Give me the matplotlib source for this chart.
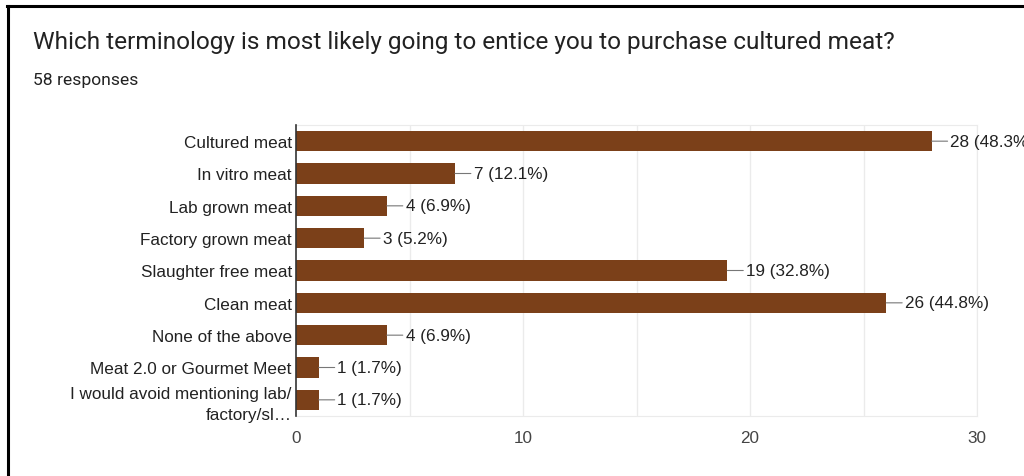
import matplotlib.pyplot as plt
from matplotlib.lines import Line2D

# survey answers, top to bottom
categories = [
    "Cultured meat",
    "In vitro meat",
    "Lab grown meat",
    "Factory grown meat",
    "Slaughter free meat",
    "Clean meat",
    "None of the above",
    "Meat 2.0 or Gourmet Meet",
    "I would avoid mentioning lab/\nfactory/sl\u2026",
]
counts = [28, 7, 4, 3, 19, 26, 4, 1, 1]
percents = [48.3, 12.1, 6.9, 5.2, 32.8, 44.8, 6.9, 1.7, 1.7]
x_ticks = [0, 10, 20, 30]

BAR = "#7b4019"
TEXT = "#222222"
GRID = "#ebebeb"
FS = 12.3


def main():
    fig = plt.figure(figsize=(10.24, 4.77), dpi=100)
    ax = fig.add_axes([296 / 1024, 1 - 417 / 477, 681 / 1024, 291 / 477])

    ypos = list(range(len(categories)))
    ax.barh(ypos, counts, height=0.62, color=BAR, zorder=3)
    ax.set_ylim(len(categories) - 0.5, -0.5)
    ax.set_xlim(0, 30)

    # grid at every 5
    for g in range(5, 31, 5):
        ax.axvline(g, color=GRID, lw=1, zorder=1)

    ax.set_xticks(x_ticks)
    ax.set_xticklabels([str(t) for t in x_ticks], fontsize=FS,
                       family="Liberation Sans", color="#444444")
    ax.set_yticks(ypos)
    ax.set_yticklabels(categories, fontsize=FS, family="Liberation Sans",
                       color=TEXT, linespacing=1.45)
    ax.tick_params(axis="x", length=0, pad=10)
    ax.tick_params(axis="y", length=0, pad=3)

    for side in ["top", "right", "bottom"]:
        ax.spines[side].set_color(GRID)
    ax.spines["left"].set_color("#333333")
    ax.spines["left"].set_linewidth(1.2)
    ax.spines["left"].set_zorder(4)

    # value labels with a short connector (first one runs off the edge, as in the original)
    for y, c, p in zip(ypos, counts, percents):
        ax.annotate(f"{c} ({p}%)", xy=(c, y), xytext=(13.5, 0),
                    textcoords="offset points", va="center", ha="left",
                    fontsize=FS, family="Liberation Sans", color=TEXT,
                    annotation_clip=False,
                    arrowprops=dict(arrowstyle="-", color="#777777", lw=0.8,
                                    shrinkA=0, shrinkB=0, relpos=(0, 0.5)))

    fig.text(33 / 1024, 1 - 42 / 477,
             "Which terminology is most likely going to entice you to purchase cultured meat?",
             fontsize=17.6, family="Roboto", color=TEXT, va="center", ha="left")
    fig.text(33 / 1024, 1 - 80 / 477, "58 responses", fontsize=12.6,
             family="Roboto", color=TEXT, va="center", ha="left")

    # black frame of the screenshot
    fig.add_artist(Line2D([7 / 1024, 1], [1 - 7 / 477, 1 - 7 / 477],
                          color="black", lw=2.2, transform=fig.transFigure))
    fig.add_artist(Line2D([8 / 1024, 8 / 1024], [0, 1 - 7 / 477],
                          color="black", lw=2.2, transform=fig.transFigure))

    fig.savefig("out.png", dpi=100, facecolor="white")


if __name__ == "__main__":
    main()
